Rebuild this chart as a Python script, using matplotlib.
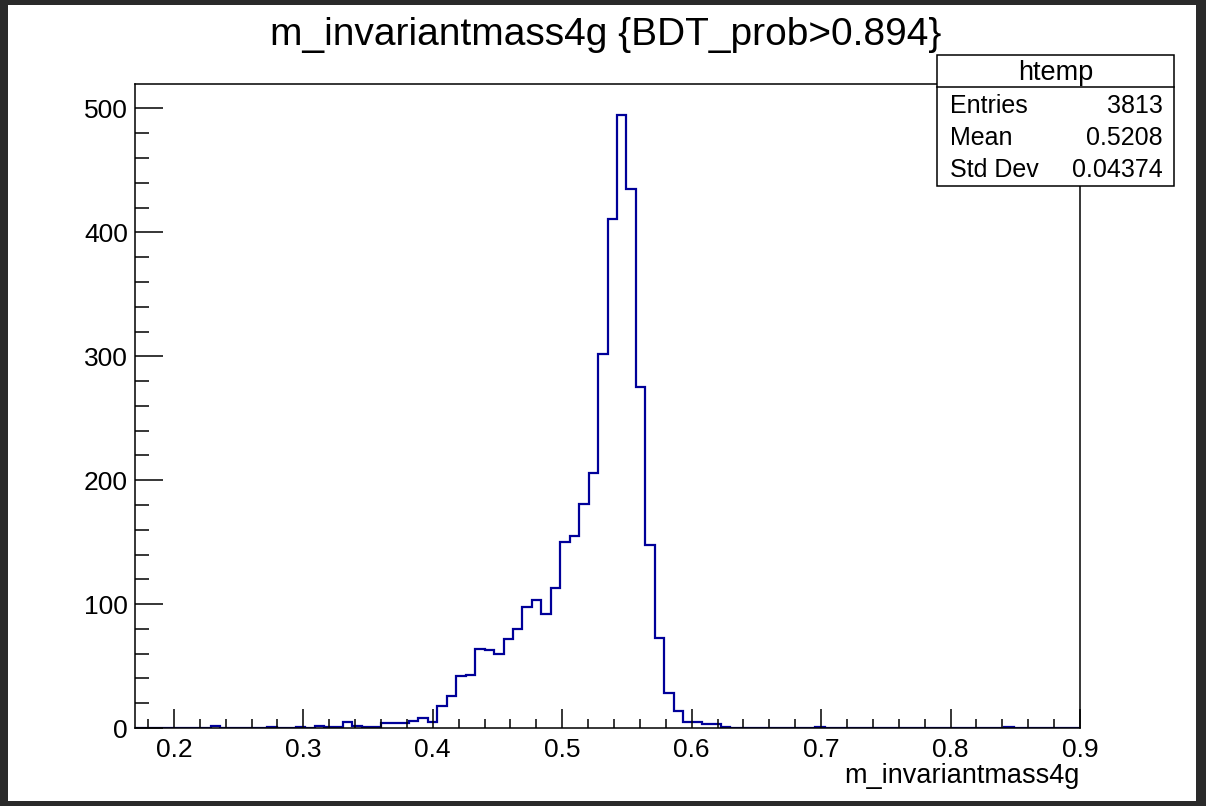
import numpy as np
import matplotlib as mpl
mpl.use('Agg')
import matplotlib.pyplot as plt
from matplotlib.ticker import MultipleLocator, FormatStrFormatter
from matplotlib.patches import Rectangle
from matplotlib.lines import Line2D

plt.rcParams['font.family'] = ['Liberation Sans', 'DejaVu Sans']

# binning of htemp
x_min, x_max, n_bins = 0.17, 0.9, 100
counts = [
    0, 0, 0, 0, 0, 0, 0, 0, 2, 0,
    0, 0, 0, 0, 1, 0, 0, 1, 0, 2,
    1, 1, 5, 2, 1, 1, 4, 4, 4, 6,
    8, 5, 18, 26, 42, 43, 64, 63, 60, 72,
    80, 98, 103, 92, 113, 150, 155, 181, 206, 302,
    411, 495, 435, 275, 148, 73, 28, 14, 5, 5,
    3, 3, 1, 0, 0, 0, 0, 0, 0, 0,
    0, 0, 1, 0, 0, 0, 0, 0, 0, 0,
    0, 0, 0, 0, 0, 0, 0, 0, 0, 0,
    0, 0, 1, 0, 0, 0, 0, 0, 0, 0,
]
title = 'm_invariantmass4g {BDT_prob>0.894}'
xlabel = 'm_invariantmass4g'
stats_name = 'htemp'
stats_labels = ['Entries', 'Mean', 'Std Dev']
stats_values = ['3813', '0.5208', '0.04374']

W, H = 1206, 806
fig = plt.figure(figsize=(W / 100, H / 100), dpi=100, facecolor='#2a2a2a')

# white canvas inside the dark window border
fig.patches.append(Rectangle((8 / W, 5 / H), (1196 - 8) / W, (801 - 5) / H,
                             transform=fig.transFigure, facecolor='white',
                             edgecolor='none', zorder=-10))

# frame: x 135..1080 px, y 84..728 px
ax = fig.add_axes([135 / W, (H - 728) / H, (1080 - 135) / W, (728 - 84) / H])
ax.set_facecolor('white')

edges = np.linspace(x_min, x_max, n_bins + 1)
ax.stairs(counts, edges, color='#000099', linewidth=1.6, baseline=0)

ax.set_xlim(x_min, x_max)
ax.set_ylim(0, 1.05 * max(counts))

ax.xaxis.set_major_locator(MultipleLocator(0.1))
ax.xaxis.set_minor_locator(MultipleLocator(0.02))
ax.xaxis.set_major_formatter(FormatStrFormatter('%.1f'))
ax.yaxis.set_major_locator(MultipleLocator(100))
ax.yaxis.set_minor_locator(MultipleLocator(20))

ax.tick_params(axis='both', which='both', direction='in', top=False, right=False,
               width=1.1, color='black', labelsize=19)
ax.tick_params(axis='x', which='major', length=13.5, pad=7.5)
ax.tick_params(axis='x', which='minor', length=6.8)
ax.tick_params(axis='y', which='major', length=20, pad=5)
ax.tick_params(axis='y', which='minor', length=10)
for s in ax.spines.values():
    s.set_linewidth(1.1)

fig.text(606 / W, (H - 45) / H, title, ha='center', va='baseline', fontsize=28)
fig.text(1080 / W, (H - 783) / H, xlabel, ha='right', va='baseline', fontsize=19.5)

# stats box
bx0, bx1, by0, by1, bsep = 937, 1174, 55, 186, 87
fig.patches.append(Rectangle((bx0 / W, (H - by1) / H), (bx1 - bx0) / W, (by1 - by0) / H,
                             transform=fig.transFigure, facecolor='white',
                             edgecolor='black', linewidth=1.1, zorder=5))
fig.lines.append(Line2D([bx0 / W, bx1 / W], [(H - bsep) / H] * 2,
                        transform=fig.transFigure, color='black', linewidth=1.1, zorder=6))
fig.text((bx0 + bx1) / 2 / W, (H - 80) / H, stats_name, ha='center', va='baseline',
         fontsize=19.5, zorder=7)
for i, (lab, val) in enumerate(zip(stats_labels, stats_values)):
    yb = (H - (113 + 32 * i)) / H
    fig.text(950 / W, yb, lab, ha='left', va='baseline', fontsize=18, zorder=7)
    fig.text(1163 / W, yb, val, ha='right', va='baseline', fontsize=18, zorder=7)

fig.savefig('out.png', dpi=100, facecolor=fig.get_facecolor())
